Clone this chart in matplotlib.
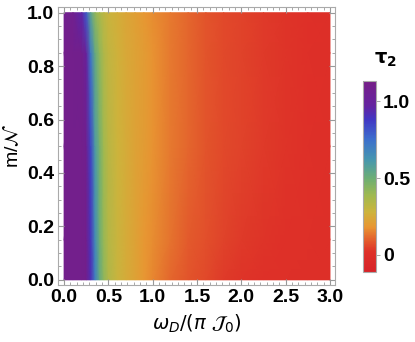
import numpy as np
import matplotlib.pyplot as plt
from matplotlib.colors import LinearSegmentedColormap
from matplotlib.ticker import AutoMinorLocator

# drive frequency grid (x) and m/N rows (y)
omega = [0.0, 0.1, 0.2, 0.25, 0.3, 0.35, 0.4, 0.45, 0.5, 0.6, 0.7, 0.8,
         0.9, 1.0, 1.2, 1.4, 1.6, 1.8, 2.0, 2.25, 2.5, 2.75, 3.0]
m_frac = [0.0, 0.15, 0.5, 0.85, 1.0]

# tau_2, one list per m/N row
tau_m000 = [1.10, 1.10, 1.10, 1.09, 0.92, 0.70, 0.52, 0.42, 0.35, 0.29, 0.25, 0.22,
            0.19, 0.16, 0.11, 0.08, 0.06, 0.04, 0.03, 0.02, 0.02, 0.01, 0.01]
tau_m015 = [1.10, 1.10, 1.10, 1.09, 0.90, 0.66, 0.50, 0.40, 0.34, 0.29, 0.25, 0.22,
            0.19, 0.17, 0.13, 0.09, 0.07, 0.05, 0.04, 0.03, 0.02, 0.02, 0.01]
tau_m050 = [1.10, 1.10, 1.10, 1.07, 0.85, 0.60, 0.48, 0.38, 0.33, 0.28, 0.25, 0.22,
            0.20, 0.18, 0.14, 0.11, 0.08, 0.06, 0.05, 0.04, 0.03, 0.02, 0.01]
tau_m085 = [1.10, 1.10, 1.09, 1.00, 0.72, 0.52, 0.42, 0.35, 0.31, 0.27, 0.24, 0.22,
            0.20, 0.18, 0.14, 0.11, 0.08, 0.06, 0.05, 0.04, 0.03, 0.02, 0.01]
tau_m100 = [1.08, 1.08, 0.95, 0.80, 0.55, 0.42, 0.36, 0.32, 0.29, 0.26, 0.23, 0.21,
            0.19, 0.17, 0.14, 0.11, 0.08, 0.06, 0.05, 0.04, 0.03, 0.02, 0.01]

tau = np.array([tau_m000, tau_m015, tau_m050, tau_m085, tau_m100])

# Mathematica-like rainbow
cmap = LinearSegmentedColormap.from_list("rainbow_mma", [
    (0.000, (215/255, 35/255, 40/255)),
    (0.104, (222/255, 48/255, 40/255)),
    (0.174, (228/255, 100/255, 45/255)),
    (0.235, (232/255, 150/255, 50/255)),
    (0.313, (205/255, 180/255, 60/255)),
    (0.400, (160/255, 185/255, 80/255)),
    (0.487, (110/255, 175/255, 115/255)),
    (0.590, (70/255, 150/255, 175/255)),
    (0.696, (60/255, 110/255, 205/255)),
    (0.800, (65/255, 55/255, 195/255)),
    (0.870, (100/255, 35/255, 160/255)),
    (1.000, (118/255, 30/255, 135/255)),
])

plt.rcParams['font.family'] = ['Liberation Sans', 'DejaVu Sans']
plt.rcParams['mathtext.fontset'] = 'dejavusans'

fig = plt.figure(figsize=(4.15, 3.42), dpi=100)
ax = fig.add_axes([0.140, 0.167, 0.667, 0.813])

mesh = ax.pcolormesh(omega, m_frac, tau, cmap=cmap, vmin=-0.11, vmax=1.13,
                     shading='gouraud')

ax.set_xlim(-0.068, 3.056)
ax.set_ylim(-0.019, 1.022)
ax.set_xticks([0.0, 0.5, 1.0, 1.5, 2.0, 2.5, 3.0])
ax.set_yticks([0.0, 0.2, 0.4, 0.6, 0.8, 1.0])
ax.set_xticklabels(["0.0", "0.5", "1.0", "1.5", "2.0", "2.5", "3.0"])
ax.set_yticklabels(["0.0", "0.2", "0.4", "0.6", "0.8", "1.0"])
ax.xaxis.set_minor_locator(AutoMinorLocator(7))
ax.yaxis.set_minor_locator(AutoMinorLocator(4))
ax.tick_params(which='both', direction='in', top=True, right=True, color='#999999',
               labelsize=14, pad=3)
ax.tick_params(which='major', length=4, width=0.8)
ax.tick_params(which='minor', length=2, width=0.6)
for lab in ax.get_xticklabels() + ax.get_yticklabels():
    lab.set_fontweight('bold')
for sp in ax.spines.values():
    sp.set_color('#aaaaaa')
    sp.set_linewidth(0.8)

ax.set_xlabel(r'$\omega_D/(\pi\ \mathcal{J}_0)$', fontsize=14, labelpad=5)
ax.set_ylabel(r'm/$\mathcal{N}$', fontsize=14, labelpad=3)

# colorbar
cax = fig.add_axes([0.875, 0.205, 0.031, 0.558])
cb = fig.colorbar(mesh, cax=cax, ticks=[0.0, 0.5, 1.0])
cb.ax.set_yticklabels(["0", "0.5", "1.0"])
cb.ax.tick_params(length=3, width=0.6, color='#999999', labelsize=14, pad=2)
for lab in cb.ax.get_yticklabels():
    lab.set_fontweight('bold')
cb.outline.set_edgecolor('#aaaaaa')
cb.outline.set_linewidth(0.8)
fig.text(0.930, 0.825, r'$\mathbf{\tau_2}$', fontsize=14, ha='center', va='center')

fig.savefig("out.png", dpi=100)
